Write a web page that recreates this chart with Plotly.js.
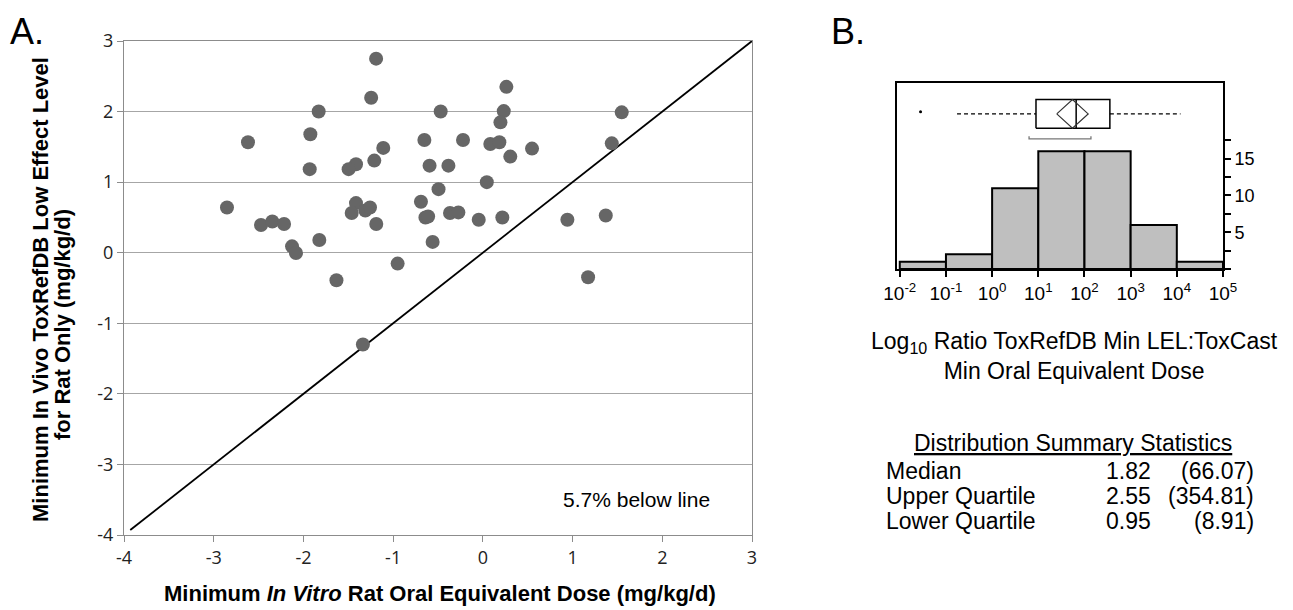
<!DOCTYPE html>
<html>
<head>
<meta charset="utf-8">
<script src="https://cdn.plot.ly/plotly-3.0.1.min.js"></script>
<style>html,body{margin:0;padding:0;background:#fff;}#chart{width:1293px;height:610px;}</style>
</head>
<body>
<div id="chart"></div>
<script>
// ---------- Panel A data: log10 mg/kg/d ----------
const inVitroOED = [-1.19,-1.245,-1.83,-0.47,-2.618,-1.923,-0.652,-1.11,-1.21,-1.414,-1.496,-1.93,-0.594,-0.494,-2.852,-2.473,-2.347,-2.216,-1.414,-1.462,-1.31,-1.258,-1.188,-0.69,-0.64,-0.61,-2.127,-2.083,-1.823,-0.56,-0.95,-1.632,0.262,0.233,0.196,1.548,-0.221,0.083,0.184,0.306,0.548,1.437,-0.384,0.044,-0.366,-0.273,-0.046,0.217,0.942,1.37,1.173,-1.337];
const inVivoLEL  = [2.75,2.195,2.0,2.0,1.565,1.678,1.597,1.485,1.305,1.254,1.184,1.184,1.234,0.901,0.641,0.393,0.443,0.407,0.703,0.562,0.599,0.641,0.407,0.722,0.5,0.514,0.09,-0.005,0.181,0.153,-0.154,-0.39,2.35,2.007,1.847,1.989,1.597,1.541,1.565,1.362,1.475,1.55,1.234,1.0,0.562,0.571,0.467,0.5,0.467,0.528,-0.347,-1.30];
const identityX = [-3.93, 3];
const identityY = [-3.93, 3];
const axisTicksA = [-4,-3,-2,-1,0,1,2,3];
const axisTickTextA = axisTicksA.map(String);
const belowLineText = "5.7% below line";

// ---------- Panel B data: log10 ratio histogram ----------
const binEdges = [-2,-1,0,1,2,3,4,5];
const binCounts = [1,2,11,16,16,6,1];
const binTickText = ["10<sup>-2</sup>","10<sup>-1</sup>","10<sup>0</sup>","10<sup>1</sup>","10<sup>2</sup>","10<sup>3</sup>","10<sup>4</sup>","10<sup>5</sup>"];
const countTickVals = [0,2.5,5,7.5,10,12.5,15,17.5];
const countTickText = ["","","5","","10","","15",""];
// box-plot summary (log10 units)
const q1 = 0.95, medianVal = 1.82, q3 = 2.55;
const whiskers = [-0.76, 4.08];
const outliers = [-1.55];
const meanVal = 1.74;
const meanCI = [1.40, 2.08];
const shortestHalf = [0.80, 2.14];
// summary table
const statLabels = ["Median","Upper Quartile","Lower Quartile"];
const statLog = ["1.82","2.55","0.95"];
const statRatio = ["(66.07)","(354.81)","(8.91)"];

// ---------- layout constants ----------
const W = 1293, H = 610;
const px = v => v / W, py = v => 1 - v / H;
const BOX_C = 21.1, BOX_H = 1.95, BRK_Y = 17.7, BRK_T = 0.35;

const traces = [];
traces.push({type:'scatter', mode:'lines', x:identityX, y:identityY, xaxis:'x', yaxis:'y',
  line:{color:'#000', width:1.8}, hoverinfo:'skip', showlegend:false});
traces.push({type:'scatter', mode:'markers', x:inVitroOED, y:inVivoLEL, xaxis:'x', yaxis:'y',
  marker:{color:'#666666', size:14, line:{width:0}}, showlegend:false});

// histogram bars
const mids = binCounts.map((c,i)=> (binEdges[i]+binEdges[i+1])/2);
const widths = binCounts.map((c,i)=> binEdges[i+1]-binEdges[i]);
traces.push({type:'bar', x:mids, y:binCounts, width:widths, xaxis:'x2', yaxis:'y2',
  marker:{color:'#bfbfbf', line:{color:'#000', width:2}}, showlegend:false});

// box plot pieces
const bTop = BOX_C + BOX_H, bBot = BOX_C - BOX_H;
traces.push({type:'scatter', mode:'lines', xaxis:'x2', yaxis:'y2', showlegend:false, hoverinfo:'skip',
  x:[q1,q3,q3,q1,q1], y:[bBot,bBot,bTop,bTop,bBot], line:{color:'#000', width:1.5}});
traces.push({type:'scatter', mode:'lines', xaxis:'x2', yaxis:'y2', showlegend:false, hoverinfo:'skip',
  x:[medianVal, medianVal], y:[bBot,bTop], line:{color:'#000', width:1.5}});
traces.push({type:'scatter', mode:'lines', xaxis:'x2', yaxis:'y2', showlegend:false, hoverinfo:'skip',
  x:[meanCI[0], meanVal, meanCI[1], meanVal, meanCI[0]], y:[BOX_C, bTop, BOX_C, bBot, BOX_C], line:{color:'#333', width:1.2}});
traces.push({type:'scatter', mode:'lines', xaxis:'x2', yaxis:'y2', showlegend:false, hoverinfo:'skip',
  x:[whiskers[0], q1, null, q3, whiskers[1]], y:[BOX_C, BOX_C, null, BOX_C, BOX_C], line:{color:'#000', width:1.3, dash:'4px,3px'}});
traces.push({type:'scatter', mode:'markers', xaxis:'x2', yaxis:'y2', showlegend:false, hoverinfo:'skip',
  x:outliers, y:outliers.map(()=>BOX_C+0.3), marker:{color:'#000', size:3}});
traces.push({type:'scatter', mode:'lines', xaxis:'x2', yaxis:'y2', showlegend:false, hoverinfo:'skip',
  x:[shortestHalf[0], shortestHalf[0], shortestHalf[1], shortestHalf[1]], y:[BRK_Y+BRK_T, BRK_Y, BRK_Y, BRK_Y+BRK_T], line:{color:'#777', width:1.3}});

const ff = 'Liberation Sans, Arial, sans-serif';
const ann = (text, x, y, size, extra) => Object.assign({text:text, x:px(x), y:py(y), xref:'paper', yref:'paper', xanchor:'center', yanchor:'middle',
  showarrow:false, font:{family:ff, size:size, color:'#000'}}, extra || {});
const annotations = [
  ann('A.', 27, 31, 36),
  ann('B.', 848, 31, 36),
  ann('<b>Minimum In Vivo ToxRefDB Low Effect Level</b>', 40, 290, 22, {textangle:-90}),
  ann('<b>for Rat Only (mg/kg/d)</b>', 62, 325, 22, {textangle:-90}),
  ann('<b>Minimum <i>In Vitro</i> Rat Oral Equivalent Dose (mg/kg/d)</b>', 440, 593, 22),
  {text:belowLineText, x:1.71, y:-3.5, xref:'x', yref:'y', xanchor:'center', yanchor:'middle', showarrow:false, font:{family:ff, size:21, color:'#000'}},
  ann('Log<sub>10</sub> Ratio ToxRefDB Min LEL:ToxCast<br>Min Oral Equivalent Dose', 1074, 356, 23, {align:'center'}),
  ann('<u>Distribution Summary Statistics</u>', 1073, 443, 23)
];
const rowY = [471, 496, 521];
statLabels.forEach((lab,i)=>{
  annotations.push(ann(lab, 884, rowY[i], 23, {xanchor:'left'}));
  annotations.push(ann(statLog[i], 1153, rowY[i], 23, {xanchor:'right'}));
  annotations.push(ann(statRatio[i], 1256, rowY[i], 23, {xanchor:'right'}));
});

const layout = {
  width:W, height:H, margin:{l:0,r:0,t:0,b:0}, paper_bgcolor:'#fff', plot_bgcolor:'#fff', showlegend:false,
  font:{family:'Open Sans', size:18, color:'#222'},
  xaxis:{domain:[px(124), px(752)], range:[-4,3], tickmode:'array', tickvals:axisTicksA, ticktext:axisTickTextA, ticks:'outside', ticklen:6, tickcolor:'#8c8c8c',
    showgrid:false, zeroline:false, showline:true, linecolor:'#8c8c8c', linewidth:1, mirror:true,
    tickfont:{family:'Open Sans', size:18, color:'#222'}},
  yaxis:{domain:[py(535), py(41)], range:[-4,3], tickmode:'array', tickvals:axisTicksA, ticktext:axisTickTextA, ticks:'outside', ticklen:6, tickcolor:'#8c8c8c',
    showgrid:true, gridcolor:'#a6a6a6', gridwidth:1, zeroline:false, showline:true, linecolor:'#8c8c8c', linewidth:1, mirror:true,
    tickfont:{family:'Open Sans', size:18, color:'#222'}},
  xaxis2:{domain:[px(897), px(1223)], range:[-2.06,5], anchor:'y2', tickmode:'array', tickvals:binEdges, ticktext:binTickText,
    ticks:'outside', ticklen:6, tickcolor:'#000', tickwidth:2, showgrid:false, zeroline:false, showline:true, linecolor:'#000', linewidth:2, mirror:true,
    tickfont:{family:ff, size:19, color:'#000'}},
  yaxis2:{domain:[py(269), py(83)], range:[0,25.3], anchor:'x2', side:'right', tickmode:'array', tickvals:countTickVals, ticktext:countTickText,
    ticks:'outside', ticklen:6, tickcolor:'#000', tickwidth:2, showgrid:false, zeroline:false, showline:true, linecolor:'#000', linewidth:2, mirror:true,
    tickfont:{family:ff, size:18, color:'#000'}},
  bargap:0,
  annotations:annotations
};
Plotly.newPlot('chart', traces, layout, {staticPlot:true, displayModeBar:false});
</script>
</body>
</html>
